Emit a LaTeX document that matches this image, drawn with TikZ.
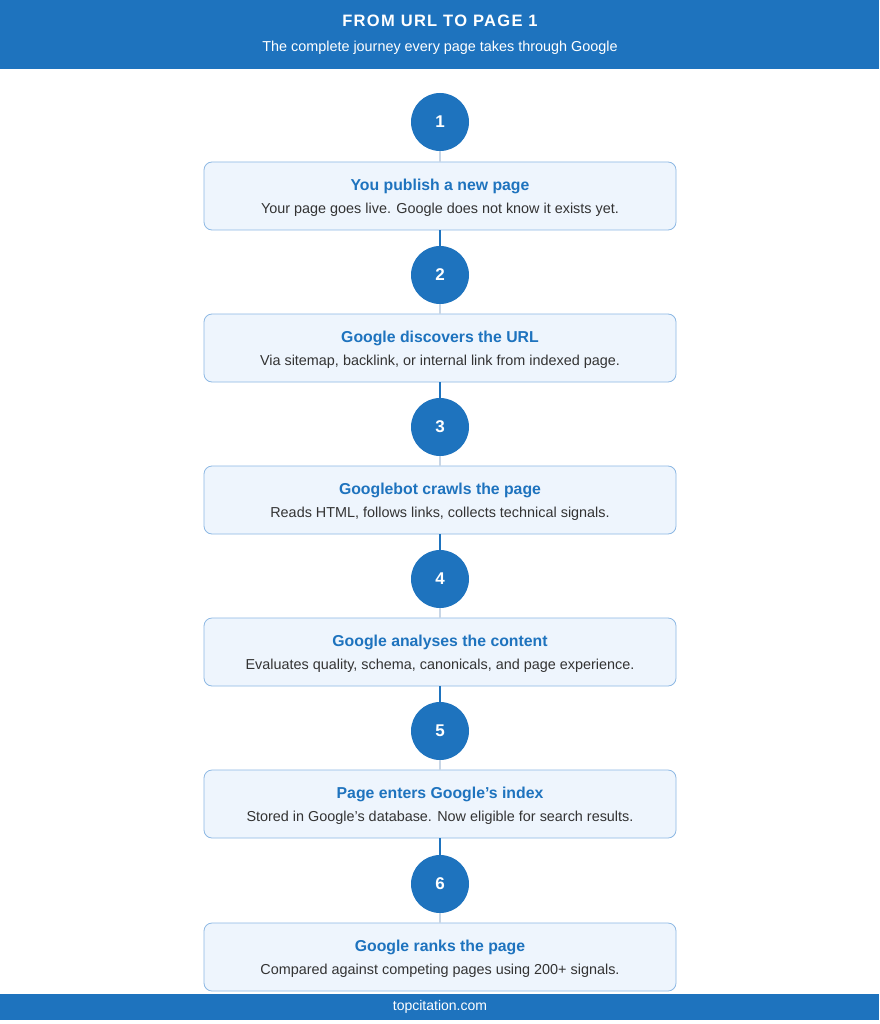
\documentclass[tikz,border=0pt]{standalone}
\usepackage{fontspec}
\setmainfont{Liberation Sans}
\definecolor{blu}{HTML}{1E73BE}
\definecolor{boxbg}{HTML}{EEF5FD}
\definecolor{boxbd}{HTML}{8DB8E4}
\definecolor{txt}{HTML}{333333}
\definecolor{gline}{HTML}{C8D6E6}
\begin{document}
\begin{tikzpicture}[x=1pt,y=-1pt,
  circ/.style={circle,fill=blu,minimum size=58pt,inner sep=0pt,text=white,font=\fontsize{17}{19}\selectfont\bfseries},
  box/.style={draw=boxbd,fill=boxbg,rounded corners=8pt,minimum width=472pt,minimum height=68pt,line width=0.8pt},
  ttl/.style={text=blu,font=\fontsize{15.8}{18}\selectfont\bfseries},
  bod/.style={text=txt,font=\fontsize{14.4}{16}\selectfont},
  down/.style={blu,line width=1.5pt},
  up/.style={gline,line width=1.2pt}]
\useasboundingbox (0,0) rectangle (879,1024);
\fill[white] (0,0) rectangle (879,1024);
\fill[blu] (0,0) rectangle (879,69);
\node[text=white,font=\fontsize{16.5}{19}\selectfont\bfseries\addfontfeature{LetterSpace=8}] (title) at (440,21) {FROM URL TO PAGE 1};
\node[text=white,font=\fontsize{14.4}{16}\selectfont] (sub) at (440,48) {The complete journey every page takes through Google};
\fill[blu] (0,994) rectangle (879,1020);
\node[text=white,font=\fontsize{14}{16}\selectfont] (foot) at (440,1007) {topcitation.com};
\foreach \i/\cy/\by/\t/\b in {
 1/122/196/You publish a new page/Your page goes live. Google does not know it exists yet.,
 2/275/348/Google discovers the URL/{Via sitemap, backlink, or internal link from indexed page.},
 3/427/500/Googlebot crawls the page/{Reads HTML, follows links, collects technical signals.},
 4/579/652/Google analyses the content/{Evaluates quality, schema, canonicals, and page experience.},
 5/731/804/Page enters Google\char39s index/Stored in Google\char39s database. Now eligible for search results.,
 6/884/957/Google ranks the page/Compared against competing pages using 200+ signals.}{
  \node[circ] (c\i) at (440,\cy) {\i};
  \node[box] (b\i) at (440,\by) {};
  \node[ttl] (t\i) at (440,\by-10) {\t};
  \node[bod] (d\i) at (440,\by+14) {\b};
  \draw[up] (c\i.south) -- (b\i.north);
}
\foreach \i/\j in {1/2,2/3,3/4,4/5,5/6}{\draw[down] (b\i.south) -- (c\j.north);}
\end{tikzpicture}
\end{document}
